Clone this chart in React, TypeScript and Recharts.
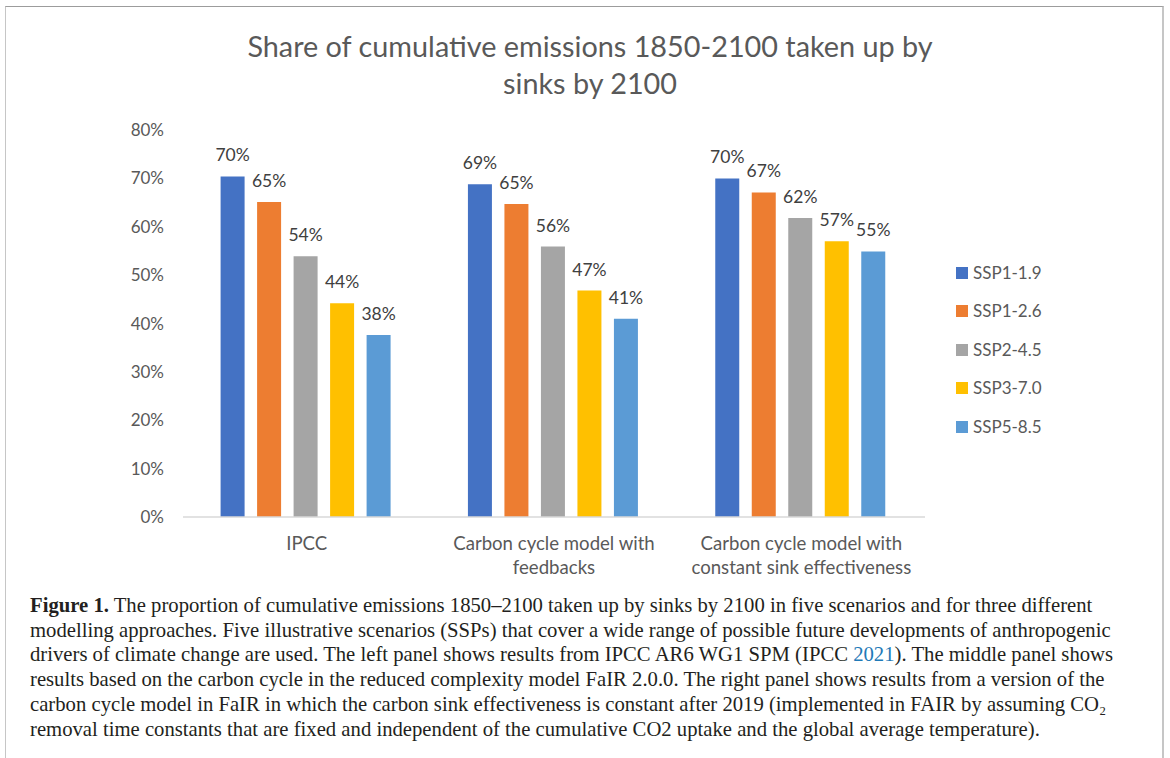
import { BarChart, Bar, XAxis, YAxis, LabelList } from "recharts";

// categories and series
const categories = [
  "IPCC",
  "Carbon cycle model with feedbacks",
  "Carbon cycle model with constant sink effectiveness",
];
const categoryLines = [
  ["IPCC"],
  ["Carbon cycle model with", "feedbacks"],
  ["Carbon cycle model with", "constant sink effectiveness"],
];
const scenarios = ["SSP1-1.9", "SSP1-2.6", "SSP2-4.5", "SSP3-7.0", "SSP5-8.5"];
const ssp119 = [70.4, 68.8, 70.0];
const ssp126 = [65.1, 64.7, 67.1];
const ssp245 = [53.9, 55.9, 61.8];
const ssp370 = [44.2, 46.8, 57.0];
const ssp585 = [37.6, 41.0, 54.9];
const yTicks = [0, 10, 20, 30, 40, 50, 60, 70, 80];
const colors = ["#4472C4", "#ED7D31", "#A5A5A5", "#FFC000", "#5B9BD5"];

const seriesValues = [ssp119, ssp126, ssp245, ssp370, ssp585];
const data = categories.map((name, i) => {
  const row: any = { name };
  scenarios.forEach((s, j) => {
    row[s] = seriesValues[j][i];
  });
  return row;
});

const excelFont = "Lato, 'Open Sans', sans-serif";
const serifFont = "'Liberation Serif', 'DejaVu Serif', serif";

const CategoryTick = ({ x, y, payload }: any) => {
  const lines = categoryLines[categories.indexOf(payload.value)] || [payload.value];
  return (
    <g>
      {lines.map((line, i) => (
        <text
          key={i}
          x={x}
          y={y + 33 + i * 24}
          textAnchor="middle"
          fill="#595959"
          fontSize={18.6}
          fontFamily={excelFont}
        >
          {line}
        </text>
      ))}
    </g>
  );
};

const captionLines = [
  [<b key="b">Figure 1.</b>, " The proportion of cumulative emissions 1850–2100 taken up by sinks by 2100 in five scenarios and for three different"],
  ["modelling approaches. Five illustrative scenarios (SSPs) that cover a wide range of possible future developments of anthropogenic"],
  [
    "drivers of climate change are used. The left panel shows results from IPCC AR6 WG1 SPM (IPCC ",
    <span key="l" style={{ color: "#1f7ab8" }}>2021</span>,
    "). The middle panel shows",
  ],
  ["results based on the carbon cycle in the reduced complexity model FaIR 2.0.0. The right panel shows results from a version of the"],
  ["carbon cycle model in FaIR in which the carbon sink effectiveness is constant after 2019 (implemented in FAIR by assuming CO₂"],
  ["removal time constants that are fixed and independent of the cumulative CO2 uptake and the global average temperature)."],
];

export default function App() {
  return (
    <div
      style={{
        position: "absolute",
        left: 0,
        top: 0,
        width: 1170,
        height: 758,
        background: "#fff",
        overflow: "hidden",
      }}
    >
      {/* frame */}
      <div
        style={{
          position: "absolute",
          left: 5,
          top: 6,
          width: 1156,
          height: 800,
          borderTop: "1px solid #9c9c9c",
          borderLeft: "1px solid #c6c6c6",
          borderRight: "2px solid #c6c6c6",
        }}
      />

      <div
        style={{
          position: "absolute",
          left: 0,
          top: 28,
          width: 1180,
          textAlign: "center",
          fontFamily: excelFont,
          fontSize: 28.8,
          lineHeight: "37px",
          color: "#595959",
        }}
      >
        Share of cumulative emissions 1850-2100 taken up by
        <br />
        sinks by 2100
      </div>

      <div style={{ position: "absolute", left: 0, top: 0 }}>
        <BarChart
          width={1170}
          height={600}
          data={data}
          margin={{ top: 130, right: 245, left: 0, bottom: 23 }}
          barCategoryGap="15.2%"
          barGap={12.5}
        >
          <XAxis
            dataKey="name"
            height={60}
            axisLine={{ stroke: "#d9d9d9", strokeWidth: 1.5 }}
            tickLine={false}
            tickSize={0}
            tickMargin={0}
            interval={0}
            tick={<CategoryTick />}
          />
          <YAxis
            width={183}
            domain={[0, 80]}
            ticks={yTicks}
            interval={0}
            axisLine={false}
            tickLine={false}
            tickSize={0}
            tickMargin={19}
            tickFormatter={(v: number) => `${v}%`}
            tick={{ fill: "#595959", fontSize: 17, fontFamily: excelFont }}
          />
          {scenarios.map((s, i) => (
            <Bar key={s} dataKey={s} fill={colors[i]} isAnimationActive={false}>
              <LabelList
                dataKey={s}
                position="top"
                offset={15}
                formatter={(v: any) => `${Math.round(Number(v))}%`}
                fill="#404040"
                fontSize={17.5}
                fontFamily={excelFont}
              />
            </Bar>
          ))}
        </BarChart>
      </div>

      {/* legend */}
      <div style={{ position: "absolute", left: 956, top: 262 }}>
        {scenarios.map((s, i) => (
          <div
            key={s}
            style={{
              height: 38.4,
              display: "flex",
              alignItems: "flex-start",
              fontFamily: excelFont,
              fontSize: 17,
              color: "#595959",
              lineHeight: "22px",
            }}
          >
            <span
              style={{
                display: "inline-block",
                width: 12,
                height: 12,
                background: colors[i],
                marginTop: 5,
                marginRight: 5,
              }}
            />
            {s}
          </div>
        ))}
      </div>

      {/* caption */}
      <div
        style={{
          position: "absolute",
          left: 30,
          top: 593,
          fontFamily: serifFont,
          fontSize: 20.7,
          lineHeight: "24.7px",
          color: "#231f20",
          whiteSpace: "nowrap",
        }}
      >
        {captionLines.map((parts, i) => (
          <div key={i}>{parts}</div>
        ))}
      </div>
    </div>
  );
}
